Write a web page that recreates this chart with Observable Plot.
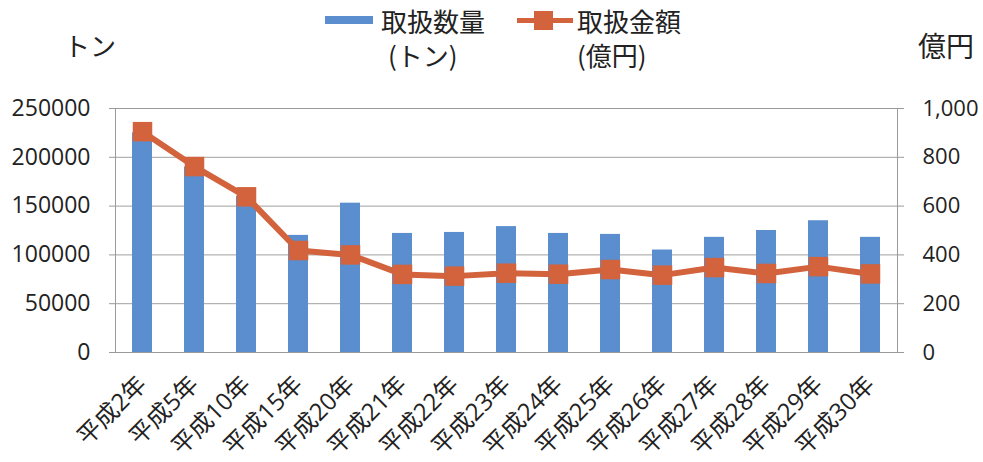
<!DOCTYPE html>
<html><head><meta charset="utf-8">
<script src="https://cdn.jsdelivr.net/npm/d3@7"></script>
<script src="https://cdn.jsdelivr.net/npm/@observablehq/plot@0.6"></script>
<style>
body{margin:0;background:#fff;}
#wrap{position:relative;width:983px;height:462px;overflow:hidden;font-family:"Noto Sans CJK JP",sans-serif;color:#222;background:#fff;}
#head{position:relative;height:80px;}
.t{position:absolute;white-space:nowrap;line-height:1;}
.sw{position:absolute;}
</style></head><body>
<div id="wrap">
  <div id="head">
    <div class="t" style="left:64px;top:32px;font-size:26px;">トン</div>
    <div class="t" style="left:918px;top:31px;font-size:28px;">億円</div>
    <div class="sw" style="left:325px;top:16px;width:48px;height:8px;background:#5b8ecf;"></div>
    <div class="t" style="left:381px;top:8px;font-size:26px;">取扱数量</div>
    <div class="t" style="left:388px;top:42px;font-size:26px;">(トン)</div>
    <div class="sw" style="left:517px;top:18px;width:56px;height:5px;background:#d2633c;"></div>
    <div class="sw" style="left:534px;top:11px;width:19px;height:19px;background:#d2633c;"></div>
    <div class="t" style="left:577px;top:8px;font-size:26px;">取扱金額</div>
    <div class="t" style="left:577px;top:42px;font-size:26px;">(億円)</div>
  </div>
  <div id="chart"></div>
</div>
<script>
// categories
const years = ["平成2年","平成5年","平成10年","平成15年","平成20年","平成21年","平成22年","平成23年","平成24年","平成25年","平成26年","平成27年","平成28年","平成29年","平成30年"];
// 取扱数量 (トン)
const tons = [225000, 190000, 160000, 120000, 153000, 122000, 123000, 129000, 122000, 121000, 105000, 118000, 125000, 135000, 118000];
// 取扱金額 (億円)
const oku = [905, 762, 638, 418, 400, 320, 313, 325, 321, 340, 317, 348, 324, 352, 322];
// left axis ticks (トン)
const leftTicks = [0, 50000, 100000, 150000, 200000, 250000];
// right axis tick labels (億円)
const rightTickLabels = ["0", "200", "400", "600", "800", "1,000"];
const okuMax = 1000, tonMax = 250000;
const ratio = tonMax / okuMax;

const data = years.map((year, i) => ({year, tons: tons[i], oku: oku[i]}));
const blue = "#5b8ecf", orange = "#d2633c";
const font = '"Open Sans","Noto Sans CJK JP",sans-serif';

const chart = Plot.plot({
  width: 983, height: 382,
  marginTop: 28, marginBottom: 110, marginLeft: 115, marginRight: 86,
  style: {fontFamily: font, fontSize: "22px", color: "#222", background: "transparent", overflow: "visible"},
  x: {domain: years, paddingInner: 0.62, paddingOuter: 0.31, label: null},
  y: {domain: [0, tonMax], label: null},
  marks: [
    Plot.gridY(leftTicks, {stroke: "#a0a0a0", strokeOpacity: 1, strokeWidth: 1}),
    Plot.frame({stroke: "#9a9a9a"}),
    Plot.axisY(leftTicks, {anchor: "left", tickSize: 6, tickPadding: 19, tickFormat: d => String(d), label: null, stroke: "#9a9a9a", fontSize: 23}),
    Plot.axisY(leftTicks, {anchor: "right", tickSize: 6, tickPadding: 19, tickFormat: d => rightTickLabels[leftTicks.indexOf(d)], label: null, stroke: "#9a9a9a"}),
    Plot.axisX({tickRotate: -45, tickSize: 0, tickPadding: 28, fontSize: 24, label: null}),
    Plot.barY(data, {x: "year", y: "tons", fill: blue}),
    Plot.line(data, {x: "year", y: d => d.oku * ratio, stroke: orange, strokeWidth: 6}),
    Plot.dot(data, {x: "year", y: d => d.oku * ratio, symbol: "square", r: 11, fill: orange, stroke: "none"})
  ]
});
document.getElementById("chart").appendChild(chart);
</script>
</body></html>
